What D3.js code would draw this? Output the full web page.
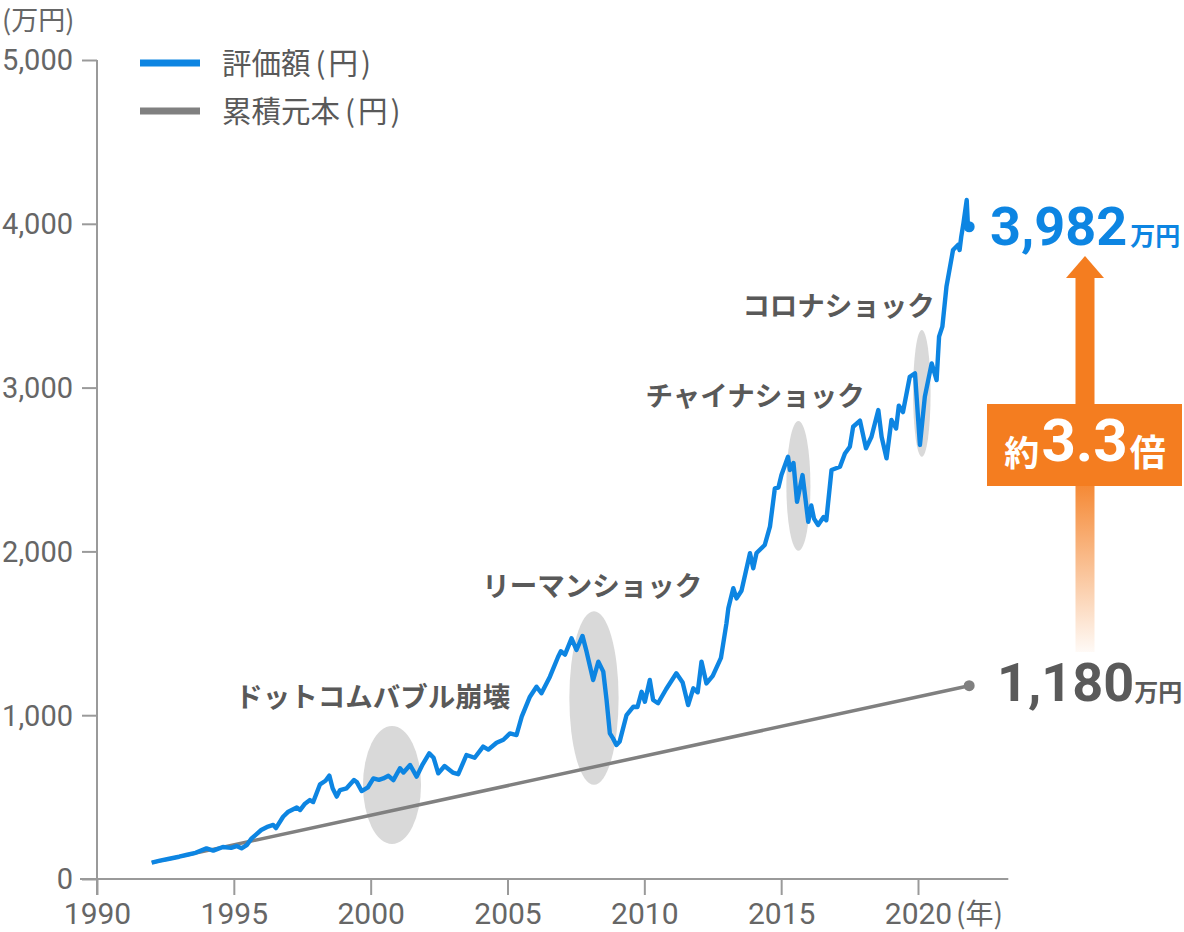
<!DOCTYPE html>
<html><head><meta charset="utf-8">
<script src="https://cdn.jsdelivr.net/npm/d3@7"></script>
<style>
html,body{margin:0;padding:0;background:#fff;}
svg{display:block;}
</style></head>
<body>
<svg id="chart" width="1184" height="932"></svg>
<script>
// ---- data ----
const years = [1992.00,1992.3,1992.6,1993.0,1993.3,1993.6,1994.0,1994.25,1994.6,1994.9,1995.1,1995.28,1995.47,1995.65,1996.0,1996.25,1996.44,1996.54,1996.8,1996.99,1997.3,1997.42,1997.6,1997.78,1997.9,1998.15,1998.35,1998.49,1998.61,1998.76,1998.88,1999.12,1999.39,1999.5,1999.67,1999.9,2000.1,2000.3,2000.46,2000.65,2000.83,2001.07,2001.2,2001.44,2001.68,2001.9,2002.14,2002.3,2002.47,2002.7,2003.0,2003.2,2003.5,2003.8,2004.11,2004.3,2004.6,2004.85,2005.09,2005.33,2005.52,2005.82,2006.06,2006.24,2006.55,2006.85,2006.95,2007.1,2007.34,2007.52,2007.74,2007.89,2008.13,2008.32,2008.5,2008.62,2008.74,2008.85,2008.98,2009.1,2009.35,2009.6,2009.75,2009.9,2010.02,2010.2,2010.32,2010.5,2010.8,2011.17,2011.4,2011.6,2011.79,2011.95,2012.09,2012.27,2012.5,2012.8,2013.0,2013.07,2013.25,2013.37,2013.55,2013.86,2013.98,2014.1,2014.4,2014.59,2014.77,2014.9,2015.01,2015.25,2015.32,2015.45,2015.58,2015.78,2015.99,2016.1,2016.2,2016.35,2016.55,2016.65,2016.84,2017.15,2017.33,2017.51,2017.63,2017.88,2018.1,2018.3,2018.55,2018.67,2018.85,2019.03,2019.2,2019.3,2019.45,2019.7,2019.89,2020.07,2020.25,2020.5,2020.68,2020.77,2020.89,2021.04,2021.28,2021.46,2021.52,2021.58,2021.66,2021.78,2021.82,2021.87];
const valuation = [100,112,122,136,148,160,187,173,195,190,201,187,207,248,299,320,330,311,380,411,437,421,460,482,470,578,600,631,554,503,543,554,604,590,537,560,614,605,614,630,604,676,650,696,625,700,767,740,645,690,650,640,757,740,808,790,832,850,889,879,991,1113,1174,1134,1235,1357,1390,1370,1469,1398,1484,1388,1215,1327,1266,1093,889,860,818,840,1001,1052,1050,1143,1082,1215,1093,1073,1160,1256,1200,1062,1164,1140,1327,1194,1240,1350,1560,1653,1775,1713,1760,1989,1897,1990,2039,2151,2385,2390,2466,2578,2497,2540,2303,2466,2181,2280,2200,2161,2210,2190,2497,2517,2598,2639,2761,2798,2629,2700,2863,2700,2568,2802,2750,2890,2850,3066,3087,2650,2945,3148,3046,3311,3372,3616,3840,3871,3840,3921,4003,4145,4003,3982];
const principalYears = [1992.0, 2021.87];
const principalValues = [100, 1180];
const yTicks = [0,1000,2000,3000,4000,5000];
const xTicks = [1990,1995,2000,2005,2010,2015,2020];
const legendLabels = [["評価額","円"], ["累積元本","円"]];
const shocks = [
  {name:"ドットコムバブル崩壊", cx:2000.78, cy:574, rx:1.06, ry:360, lx:2000.08, ly:1050},
  {name:"リーマンショック", cx:2008.16, cy:1105, rx:0.90, ry:530, lx:2008.1, ly:1728},
  {name:"チャイナショック", cx:2015.63, cy:2400, rx:0.44, ry:396, lx:2014.05, ly:2888},
  {name:"コロナショック", cx:2020.14, cy:2965, rx:0.32, ry:387, lx:2017.1, ly:3437}
];
const finalValue = 3982, finalPrincipal = 1180, ratioText = "3.3";

// ---- layout ----
const BLUE = "#0d85e2", GRAY = "#808080", TXT = "#595959", AX = "#9a9a9a", ORANGE = "#f47d20";
const JP = "'Noto Sans CJK JP','Noto Sans',sans-serif";
const NUM = "Roboto,'Noto Sans',sans-serif";
const svg = d3.select("#chart");
const x = d3.scaleLinear().domain([1990, 2020]).range([97, 918]);
const y = d3.scaleLinear().domain([0, 5000]).range([879, 60]);

// defs
const defs = svg.append("defs");
const grad = defs.append("linearGradient").attr("id","fade").attr("x1",0).attr("y1",0).attr("x2",0).attr("y2",1);
grad.append("stop").attr("offset","0%").attr("stop-color",ORANGE).attr("stop-opacity",0.9);
grad.append("stop").attr("offset","100%").attr("stop-color",ORANGE).attr("stop-opacity",0.04);

// shock ellipses
svg.append("g").selectAll("ellipse").data(shocks).join("ellipse")
  .attr("cx", d => x(d.cx)).attr("cy", d => y(d.cy))
  .attr("rx", d => x(d.cx + d.rx) - x(d.cx)).attr("ry", d => y(d.cy - d.ry) - y(d.cy))
  .attr("fill", "#d9d9d9");

// axes
const gy = svg.append("g").attr("transform", `translate(${x(1990)},0)`)
  .call(d3.axisLeft(y).tickValues(yTicks).tickSize(15).tickSizeOuter(0).tickFormat(d3.format(",")));
const gx = svg.append("g").attr("transform", `translate(0,${y(0)})`)
  .call(d3.axisBottom(x).tickValues(xTicks).tickSize(16).tickSizeOuter(0).tickFormat(d3.format("d")));
[gy, gx].forEach(g => {
  g.select(".domain").remove();
  g.selectAll(".tick line").attr("stroke", AX).attr("stroke-width", 2);
  g.selectAll(".tick text").attr("fill", "#666").style("font-family", NUM).style("font-size", "29px");
});
gy.selectAll(".tick text").attr("x", -24).attr("dy", "0.34em");
gx.selectAll(".tick text").attr("y", 24).attr("dy", "0.71em").style("font-size", "30px");
svg.append("line").attr("x1", x(1990)).attr("x2", x(1990)).attr("y1", y(5000)).attr("y2", y(0) + 16).attr("stroke", AX).attr("stroke-width", 2);
svg.append("line").attr("x1", x(1990) - 17).attr("x2", x(2023.3)).attr("y1", y(0)).attr("y2", y(0)).attr("stroke", AX).attr("stroke-width", 2);
svg.append("text").attr("x", x(2020) + 38).attr("y", 924).attr("fill", "#666").style("font-family", JP).style("font-size", "28px").text("(年)");
svg.append("text").attr("x", 2).attr("y", 30).attr("fill", "#666").style("font-family", JP).style("font-size", "27px").text("(万円)");

// lines
const line = d3.line().x(d => x(d[0])).y(d => y(d[1]));
svg.append("path").datum(principalYears.map((yr, i) => [yr, principalValues[i]]))
  .attr("d", line).attr("fill", "none").attr("stroke", GRAY).attr("stroke-width", 3.5);
svg.append("circle").attr("cx", x(principalYears[1])).attr("cy", y(principalValues[1])).attr("r", 5.5).attr("fill", GRAY);
svg.append("path").datum(years.map((yr, i) => [yr, valuation[i]]))
  .attr("d", line).attr("fill", "none").attr("stroke", BLUE).attr("stroke-width", 4.4).attr("stroke-linejoin", "round");
svg.append("circle").attr("cx", x(years[years.length-1])).attr("cy", y(valuation[valuation.length-1])).attr("r", 5.5).attr("fill", BLUE);

// shock labels
svg.append("g").selectAll("text").data(shocks).join("text")
  .attr("x", d => x(d.lx)).attr("y", d => y(d.ly))
  .attr("text-anchor", "middle").attr("fill", TXT)
  .style("font-family", JP).style("font-size", "27.5px").style("font-weight", "700")
  .text(d => d.name);

// legend
const lg = svg.append("g");
legendLabels.forEach((t, i) => {
  const yy = 63 + i * 48;
  lg.append("line").attr("x1", 140).attr("x2", 200).attr("y1", yy).attr("y2", yy)
    .attr("stroke", i === 0 ? BLUE : GRAY).attr("stroke-width", 7);
  const tx = lg.append("text").attr("x", 222).attr("y", yy + 11).attr("fill", TXT)
    .style("font-family", JP).style("font-size", "29.5px");
  tx.append("tspan").text(t[0]);
  tx.append("tspan").attr("dx", 5).text("(");
  tx.append("tspan").attr("dx", 3).text(t[1]);
  tx.append("tspan").attr("dx", 3).text(")");
});

// end values
const v1 = svg.append("text").attr("x", 990).attr("y", 245).attr("fill", BLUE).style("font-family", NUM).style("font-weight", "700");
v1.append("tspan").style("font-size", "54px").text(d3.format(",")(finalValue));
v1.append("tspan").style("font-size", "25px").style("font-family", JP).attr("dx", 3).text("万円");
const v2 = svg.append("text").attr("x", 997).attr("y", 701).attr("fill", "#5a5a5a").style("font-family", NUM).style("font-weight", "700");
v2.append("tspan").style("font-size", "54px").text(d3.format(",")(finalPrincipal));
v2.append("tspan").style("font-size", "24px").style("font-family", JP).attr("dx", 0).text("万円");

// arrow
const ax = 1085;
svg.append("rect").attr("x", ax - 9.5).attr("y", 486).attr("width", 19).attr("height", 166).attr("fill", "url(#fade)");
svg.append("rect").attr("x", ax - 9.5).attr("y", 276).attr("width", 19).attr("height", 130).attr("fill", ORANGE);
svg.append("path").attr("d", `M${ax},256 L${ax+19},278 L${ax-19},278 Z`).attr("fill", ORANGE);
svg.append("rect").attr("x", 987).attr("y", 404).attr("width", 195).attr("height", 82).attr("fill", ORANGE);
const bt = svg.append("text").attr("x", ax).attr("y", 466).attr("text-anchor", "middle").attr("fill", "#fff").style("font-weight", "700");
bt.append("tspan").style("font-family", JP).style("font-size", "35px").text("約");
bt.append("tspan").style("font-family", NUM).style("font-size", "60px").attr("dx", 2).attr("dy", -5).text(ratioText);
bt.append("tspan").style("font-family", JP).style("font-size", "36px").attr("dx", 2).attr("dy", 5).text("倍");
</script>
</body></html>
